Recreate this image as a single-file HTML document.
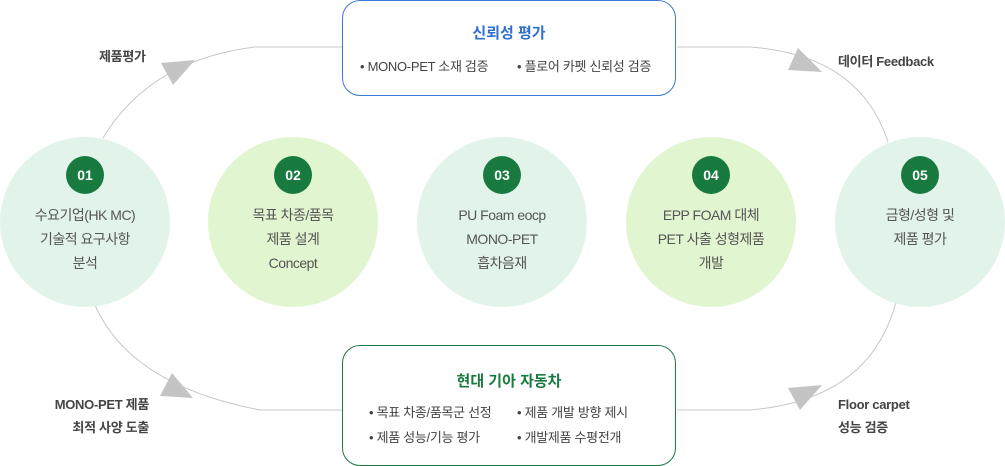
<!DOCTYPE html>
<html><head><meta charset="utf-8"><style>
html,body{margin:0;padding:0;background:#fff;}
body{width:1005px;height:466px;position:relative;overflow:hidden;font-family:"Liberation Sans","Noto Sans CJK KR",sans-serif;}
.c{position:absolute;width:170px;height:170px;border-radius:50%;top:137px;text-align:center;}
.m{background:#e2f4ea}.g{background:#e1f5d0}
.b{position:absolute;left:66px;top:19px;width:38px;height:38px;border-radius:50%;background:#187a3e;color:#fff;font-weight:bold;font-size:14px;line-height:38px;text-align:center;}
.t{position:absolute;left:0;right:0;top:66px;font-size:14px;color:#555;line-height:24px;letter-spacing:-0.5px;}
.box{position:absolute;left:342px;width:334px;border-radius:18px;background:#fff;box-sizing:border-box;}
.ttl{position:absolute;left:0;right:0;text-align:center;font-weight:bold;font-size:15px;}
.bl{position:absolute;font-size:13px;color:#444;white-space:nowrap;letter-spacing:-0.3px;}
.lb{position:absolute;font-size:13px;color:#444;font-weight:600;white-space:nowrap;letter-spacing:-0.3px;}
</style></head><body>
<svg width="1005" height="466" style="position:absolute;left:0;top:0">
<g fill="none" stroke="#c8c8c8" stroke-width="1">
<path d="M103,138 Q150,60 255,47 L342,47"/>
<path d="M677,47 L750,47 Q860,55 888,142"/>
<path d="M95,305 Q130,385 260,410 L342,410"/>
<path d="M677,410 L750,410 Q870,400 896,302"/>
</g>
<g fill="#c4c4c4">
<polygon points="195,60 161,63 173,85"/>
<polygon points="822,72 788,70 798,48"/>
<polygon points="193,398 160,396 172,373"/>
<polygon points="822,385 788,388 800,410"/>
</g>
</svg>
<div class="c m" style="left:0"><div class="b">01</div><div class="t">수요기업(HK MC)<br>기술적 요구사항<br>분석</div></div>
<div class="c g" style="left:208px"><div class="b">02</div><div class="t">목표 차종/품목<br>제품 설계<br>Concept</div></div>
<div class="c m" style="left:417px"><div class="b">03</div><div class="t">PU Foam eocp<br>MONO-PET<br>흡차음재</div></div>
<div class="c g" style="left:626px"><div class="b">04</div><div class="t">EPP FOAM 대체<br>PET 사출 성형제품<br>개발</div></div>
<div class="c m" style="left:835px"><div class="b">05</div><div class="t">금형/성형 및<br>제품 평가</div></div>
<div class="box" style="top:0;height:96px;border:1.3px solid #3a7bd5;">
<div class="ttl" style="top:21px;color:#2f6fcf">신뢰성 평가</div>
<div class="bl" style="left:17px;top:55px">• MONO-PET 소재 검증</div>
<div class="bl" style="left:174px;top:55px">• 플로어 카펫 신뢰성 검증</div>
</div>
<div class="box" style="top:345px;height:121px;border:1.3px solid #1e7a45;">
<div class="ttl" style="top:24px;color:#187a3e">현대 기아 자동차</div>
<div class="bl" style="left:26px;top:56px">• 목표 차종/품목군 선정</div>
<div class="bl" style="left:174px;top:56px">• 제품 개발 방향 제시</div>
<div class="bl" style="left:26px;top:81px">• 제품 성능/기능 평가</div>
<div class="bl" style="left:174px;top:81px">• 개발제품 수평전개</div>
</div>
<div class="lb" style="left:99px;top:46px">제품평가</div>
<div class="lb" style="left:838px;top:51px">데이터 Feedback</div>
<div class="lb" style="left:40px;top:393px;text-align:right;width:109px;line-height:23px">MONO-PET 제품<br>최적 사양 도출</div>
<div class="lb" style="left:838px;top:393px;line-height:23px">Floor carpet<br>성능 검증</div>
</body></html>
